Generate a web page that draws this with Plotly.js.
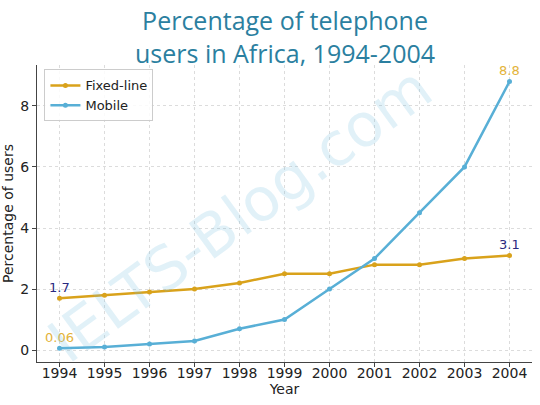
<!DOCTYPE html>
<html><head><meta charset="utf-8">
<script src="https://cdn.plot.ly/plotly-3.0.1.min.js"></script>
<style>html,body{margin:0;padding:0;background:#fff}#chart{width:540px;height:405px}</style>
</head><body><div id="chart"></div>
<script>
const years = [1994,1995,1996,1997,1998,1999,2000,2001,2002,2003,2004];
const fixedLine = [1.7,1.8,1.9,2.0,2.2,2.5,2.5,2.8,2.8,3.0,3.1];
const mobile = [0.06,0.1,0.2,0.3,0.7,1.0,2.0,3.0,4.5,6.0,8.8];
const yTicks = [0,2,4,6,8];
const titleText = 'Percentage of telephone<br>users in Africa, 1994-2004';

const traces = [
  {x: years, y: fixedLine, name: 'Fixed-line', mode: 'lines+markers', type: 'scatter',
   line: {color: '#d9a21b', width: 2.5}, marker: {color: '#d9a21b', size: 5}},
  {x: years, y: mobile, name: 'Mobile', mode: 'lines+markers', type: 'scatter',
   line: {color: '#58afd6', width: 2.5}, marker: {color: '#58afd6', size: 5}}
];
const n = years.length - 1;
const annotations = [
  {xref: 'paper', yref: 'paper', x: 0.5, y: 1.215, xanchor: 'center', yanchor: 'top', text: titleText, showarrow: false,
   font: {family: 'Open Sans, sans-serif', size: 25, color: '#2b7fa0'}},
  {x: years[0], y: fixedLine[0], text: String(fixedLine[0]), showarrow: false, yshift: 11, font: {color: '#2b2a80', size: 13}},
  {x: years[n], y: fixedLine[n], text: String(fixedLine[n]), showarrow: false, yshift: 11, font: {color: '#2b2a80', size: 13}},
  {x: years[0], y: mobile[0], text: String(mobile[0]), showarrow: false, yshift: 11, font: {color: '#e3b33a', size: 13}},
  {x: years[n], y: mobile[n], text: String(mobile[n]), showarrow: false, yshift: 11, font: {color: '#e3b33a', size: 13}},
  {xref: 'paper', yref: 'paper', x: 0.41, y: 0.5, text: 'IELTS-Blog.com', showarrow: false, textangle: -36,
   font: {family: 'DejaVu Sans, sans-serif', size: 60, color: 'rgba(120,190,225,0.22)'}}
];
const layout = {
  width: 540, height: 405,
  margin: {l: 37, r: 8, t: 65, b: 43},
  paper_bgcolor: '#fff', plot_bgcolor: '#fff',
  font: {family: 'DejaVu Sans, sans-serif', color: '#222', size: 13},
  xaxis: {range: [1993.5, 2004.5], tickvals: years, ticktext: years.map(String), showgrid: true,
          gridcolor: '#dcdcdc', griddash: 'dot', gridwidth: 1, showline: true, linecolor: '#444', linewidth: 1,
          ticks: 'outside', ticklen: 4, tickcolor: '#444', zeroline: false, ticklabelstandoff: -6,
          tickfont: {size: 14, color: '#222'},
          title: {text: 'Year', font: {size: 14, color: '#222'}, standoff: 0}},
  yaxis: {range: [-0.39, 9.34], tickvals: yTicks, showgrid: true,
          gridcolor: '#dcdcdc', griddash: 'dot', gridwidth: 1, showline: true, linecolor: '#444', linewidth: 1,
          ticks: 'outside', ticklen: 4, tickcolor: '#444', zeroline: false,
          tickfont: {size: 14, color: '#222'},
          title: {text: 'Percentage of users', font: {size: 14, color: '#222'}, standoff: 4}},
  legend: {x: 0.015, y: 0.985, xanchor: 'left', yanchor: 'top', bgcolor: 'rgba(255,255,255,0.85)',
           bordercolor: '#ccc', borderwidth: 1, font: {size: 13, color: '#222'}},
  annotations: annotations,
  showlegend: true
};
Plotly.newPlot('chart', traces, layout, {displayModeBar: false, staticPlot: true});
</script></body></html>
